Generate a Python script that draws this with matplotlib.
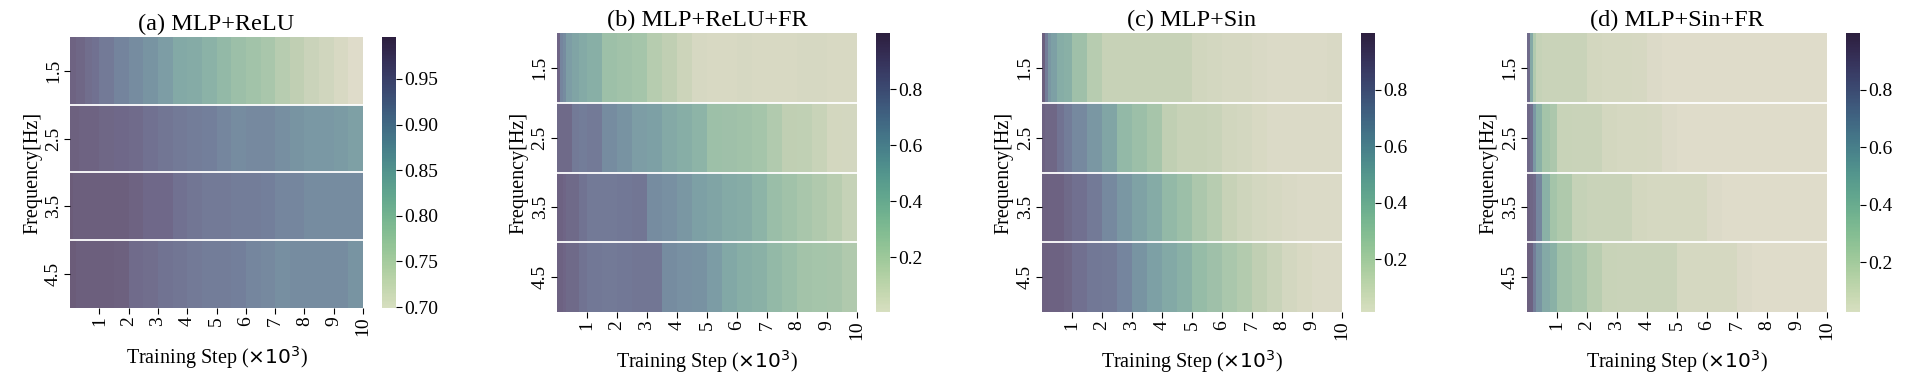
import numpy as np
import matplotlib
matplotlib.use('Agg')
import matplotlib.pyplot as plt
import seaborn as sns

#--------------------------------------------
# Data (loss ratio per frequency over training)
#--------------------------------------------

# training step bin edges, in thousands
step_edges = [0, 0.1, 0.2, 0.3, 0.5, 0.75, 1.0, 1.5, 2.0, 2.5, 3.0, 3.5, 4.0,
              4.5, 5.0, 5.5, 6.0, 6.5, 7.0, 7.5, 8.0, 8.5, 9.0, 9.5, 10.0]
freq_labels = ['1.5', '2.5', '3.5', '4.5']
titles = ['(a) MLP+ReLU', '(b) MLP+ReLU+FR', '(c) MLP+Sin', '(d) MLP+Sin+FR']
x_ticks = [1, 2, 3, 4, 5, 6, 7, 8, 9, 10]

relu = [
    [0.965, 0.965, 0.96, 0.96, 0.945, 0.94, 0.925, 0.91, 0.895, 0.88, 0.865, 0.845,
     0.84, 0.825, 0.81, 0.795, 0.785, 0.775, 0.755, 0.745, 0.73, 0.72, 0.71, 0.70],
    [0.97, 0.97, 0.97, 0.965, 0.965, 0.965, 0.96, 0.955, 0.95, 0.94, 0.93, 0.925,
     0.92, 0.915, 0.905, 0.895, 0.90, 0.90, 0.89, 0.88, 0.875, 0.875, 0.87, 0.86],
    [0.98, 0.975, 0.975, 0.975, 0.975, 0.975, 0.975, 0.975, 0.965, 0.955, 0.955, 0.94,
     0.93, 0.925, 0.925, 0.92, 0.92, 0.915, 0.905, 0.905, 0.895, 0.895, 0.895, 0.895],
    [0.98, 0.98, 0.975, 0.975, 0.975, 0.975, 0.975, 0.97, 0.95, 0.945, 0.935, 0.93,
     0.925, 0.92, 0.92, 0.915, 0.905, 0.90, 0.89, 0.895, 0.895, 0.895, 0.895, 0.88],
]
relu_fr = [
    [0.88, 0.70, 0.66, 0.56, 0.52, 0.48, 0.45, 0.32, 0.30, 0.28, 0.20, 0.16,
     0.10, 0.05, 0.04, 0.04, 0.05, 0.04, 0.04, 0.04, 0.05, 0.05, 0.04, 0.04],
    [0.86, 0.86, 0.86, 0.86, 0.76, 0.75, 0.76, 0.66, 0.62, 0.56, 0.55, 0.49,
     0.46, 0.42, 0.32, 0.31, 0.30, 0.28, 0.22, 0.16, 0.15, 0.12, 0.07, 0.06],
    [0.90, 0.90, 0.88, 0.86, 0.86, 0.80, 0.76, 0.76, 0.77, 0.78, 0.66, 0.64,
     0.60, 0.55, 0.52, 0.48, 0.47, 0.42, 0.34, 0.30, 0.26, 0.23, 0.18, 0.13],
    [0.90, 0.90, 0.88, 0.86, 0.86, 0.80, 0.77, 0.76, 0.77, 0.78, 0.78, 0.66,
     0.64, 0.63, 0.57, 0.50, 0.46, 0.44, 0.38, 0.34, 0.29, 0.28, 0.27, 0.23],
]
sin = [
    [0.92, 0.75, 0.60, 0.55, 0.47, 0.45, 0.32, 0.20, 0.13, 0.13, 0.13, 0.13,
     0.13, 0.13, 0.08, 0.07, 0.06, 0.06, 0.04, 0.03, 0.03, 0.03, 0.03, 0.04],
    [0.90, 0.88, 0.88, 0.88, 0.80, 0.75, 0.68, 0.60, 0.52, 0.38, 0.33, 0.28,
     0.16, 0.13, 0.13, 0.12, 0.08, 0.07, 0.05, 0.03, 0.03, 0.03, 0.03, 0.03],
    [0.91, 0.91, 0.90, 0.90, 0.90, 0.86, 0.82, 0.76, 0.68, 0.60, 0.54, 0.48,
     0.38, 0.33, 0.25, 0.20, 0.13, 0.10, 0.07, 0.06, 0.04, 0.03, 0.03, 0.03],
    [0.91, 0.91, 0.90, 0.90, 0.90, 0.88, 0.82, 0.77, 0.76, 0.70, 0.62, 0.55,
     0.50, 0.45, 0.36, 0.32, 0.26, 0.22, 0.16, 0.12, 0.07, 0.05, 0.03, 0.03],
]
sin_fr = [
    [0.85, 0.50, 0.24, 0.15, 0.13, 0.13, 0.13, 0.13, 0.09, 0.08, 0.08, 0.07,
     0.04, 0.03, 0.03, 0.03, 0.03, 0.03, 0.03, 0.03, 0.03, 0.03, 0.03, 0.03],
    [0.87, 0.82, 0.60, 0.45, 0.30, 0.26, 0.14, 0.13, 0.13, 0.09, 0.08, 0.08,
     0.07, 0.04, 0.03, 0.03, 0.03, 0.03, 0.03, 0.03, 0.03, 0.03, 0.03, 0.03],
    [0.90, 0.88, 0.85, 0.70, 0.45, 0.30, 0.25, 0.15, 0.13, 0.13, 0.13, 0.09,
     0.08, 0.08, 0.08, 0.08, 0.04, 0.03, 0.03, 0.03, 0.03, 0.03, 0.03, 0.03],
    [0.92, 0.90, 0.75, 0.62, 0.50, 0.45, 0.32, 0.28, 0.20, 0.14, 0.13, 0.13,
     0.13, 0.13, 0.08, 0.08, 0.08, 0.08, 0.04, 0.03, 0.03, 0.03, 0.03, 0.03],
]
color_ranges = [(0.699, 0.996), (0.005, 1.0), (0.013, 1.0), (0.027, 0.998)]
cbar_ticks = [[0.70, 0.75, 0.80, 0.85, 0.90, 0.95],
              [0.2, 0.4, 0.6, 0.8], [0.2, 0.4, 0.6, 0.8], [0.2, 0.4, 0.6, 0.8]]
cbar_fmt = ['{:.2f}', '{:.1f}', '{:.1f}', '{:.1f}']

#--------------------------------------------
# Styling
#--------------------------------------------
plt.rcParams['font.family'] = ['Liberation Serif', 'DejaVu Serif']
plt.rcParams['mathtext.fontset'] = 'dejavusans'

cmap = sns.cubehelix_palette(start=.5, rot=-.75, as_cmap=True)

fig = plt.figure(figsize=(19.31, 3.75), dpi=100)

# heatmap left, heatmap width, colorbar left, bottom, height (figure fractions)
layout = [
    (0.0363, 0.1517, 0.1978, 0.1787, 0.7227),
    (0.2884, 0.1554, 0.4537, 0.168, 0.744),
    (0.5396, 0.1554, 0.7048, 0.168, 0.744),
    (0.7908, 0.1554, 0.9560, 0.168, 0.744),
]

for i, data in enumerate([relu, relu_fr, sin, sin_fr]):
    left, width, cleft, bottom, height = layout[i]
    ax = fig.add_axes([left, bottom, width, height])
    cax = fig.add_axes([cleft, bottom, 0.0072, height])
    vmin, vmax = color_ranges[i]
    vals = np.array(data)
    # cells are semi-transparent over a faint pink ground
    ax.set_facecolor('#f2d6e2')
    ax.pcolormesh(step_edges, np.arange(len(freq_labels) + 1), vals,
                  cmap=cmap, vmin=vmin, vmax=vmax, alpha=0.7,
                  edgecolor='none', linewidth=0, antialiased=False)
    for r in range(1, len(freq_labels)):
        ax.axhline(r, color='white', lw=1.3)
    ax.set_xlim(step_edges[0], step_edges[-1])
    ax.set_ylim(len(freq_labels), 0)
    for s in ax.spines.values():
        s.set_visible(False)
    ax.set_xticks(x_ticks)
    ax.set_xticklabels([str(t) for t in x_ticks], rotation=90, fontsize=14)
    ax.set_yticks(np.arange(len(freq_labels)) + 0.5)
    ax.set_yticklabels(freq_labels, rotation=90, va='center', fontsize=14)
    ax.tick_params(length=4, width=0.8, pad=2)
    ax.set_title(titles[i], fontsize=17.5, pad=5)
    ax.set_xlabel(r'Training Step ($\times10^3$)', fontsize=14.5, labelpad=6)
    ax.set_ylabel('Frequency[Hz]', fontsize=14.5, labelpad=2)

    sm = matplotlib.cm.ScalarMappable(norm=plt.Normalize(vmin, vmax), cmap=cmap)
    cb = fig.colorbar(sm, cax=cax)
    cb.outline.set_visible(False)
    cb.set_ticks(cbar_ticks[i])
    cb.set_ticklabels([cbar_fmt[i].format(t) for t in cbar_ticks[i]])
    cax.tick_params(labelsize=14, length=4, width=0.8, pad=2)

plt.savefig('out.png', dpi=100)
